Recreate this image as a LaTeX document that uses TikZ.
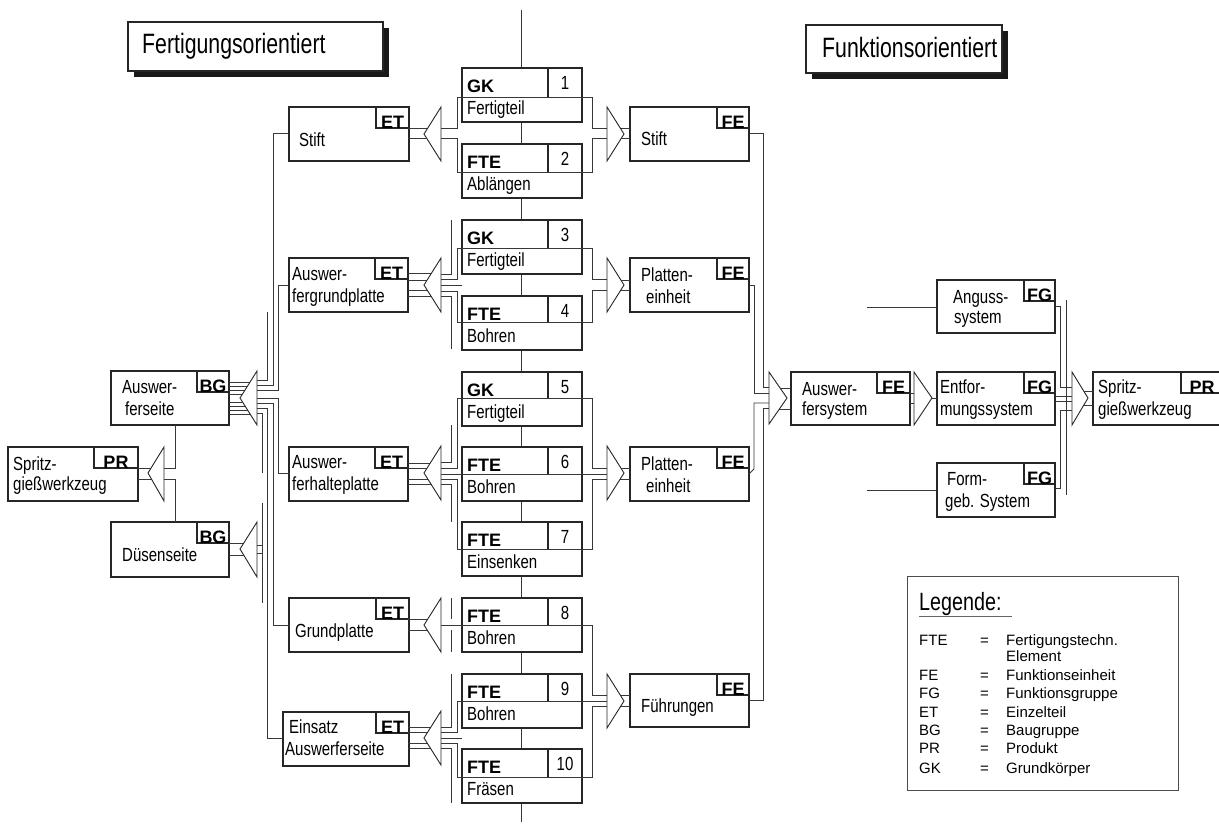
\documentclass[tikz,border=0pt]{standalone}
\usepackage{fontspec}
\setmainfont{Liberation Sans}
\newfontfamily\narrowfont{Liberation Sans}[FakeStretch=0.79]
\newfontfamily\titlefont{Liberation Sans}[FakeStretch=0.76]
\usetikzlibrary{calc}
\begin{document}
\begin{tikzpicture}[x=1pt,y=-1pt,
  wire/.style={draw=black!78, line width=0.9pt},
  box/.style={draw=black!85, line width=1.1pt, fill=white, anchor=north west, inner sep=0pt, outer sep=0pt},
  tagline/.style={draw=black!85, line width=1.1pt},
  tag/.style={anchor=base, inner sep=0pt, font=\bfseries\fontsize{18}{18}\selectfont},
  kind/.style={anchor=base west, inner sep=0pt, font=\bfseries\fontsize{18}{18}\selectfont},
  lbl/.style={anchor=base west, inner sep=0pt, font=\narrowfont\fontsize{19}{22}\selectfont},
  num/.style={anchor=base, inner sep=0pt, font=\narrowfont\fontsize{19}{19}\selectfont},
  merge/.style={draw=black!85, line width=0.9pt, fill=white, line join=miter},
  title/.style={anchor=base west, inner sep=0pt, font=\titlefont\fontsize{28}{28}\selectfont},
  legend/.style={anchor=base west, inner sep=0pt, font=\fontsize{15}{15}\selectfont},
]
\useasboundingbox (0,0) rectangle (1219,825);

% unit box with a type tag in the upper right corner
\newcommand\unitbox[7]{% name, x, y, width, height, tag width, tag
  \node[box,minimum width=#4pt,minimum height=#5pt] (#1) at (#2,#3) {};
  \draw[tagline] ($(#1.north east)+(-#6,0)$) |- ($(#1.north east)+(0,21)$);
  \node[tag] (#1-t) at ($(#1.north east)+(-#6/2,21)$) {#7};
}
% manufacturing element box of the middle column
\newcommand\ftebox[6]{% name, top, divider, kind, number, process
  \node[box,minimum width=120pt,minimum height=54pt] (#1) at (462,#2) {};
  \draw[tagline] (548,#2) -- (548,#3);
  \node[kind] (#1-k) at (467,#2+24) {#4};
  \node[num] (#1-n) at (565,#2+21) {#5};
  \node[lbl] (#1-p) at (467,#2+46) {#6};
}
\newcommand\mergeleft[2]{\draw[merge] (#1,#2-27) -- (#1-17,#2) -- (#1,#2+27) -- cycle;}
\newcommand\mergeright[2]{\draw[merge] (#1,#2-27) -- (#1+17,#2) -- (#1,#2+27) -- cycle;}

% ---------------- titles
\fill[black!90] (134,28) rectangle (389,77);
\node[box,minimum width=255pt,minimum height=49pt] (titleL) at (128,22) {};
\node[title] (titleLtext) at (142,53) {Fertigungsorientiert};
\fill[black!90] (812,31) rectangle (1008,79);
\node[box,minimum width=196pt,minimum height=48pt] (titleR) at (806,25) {};
\node[title] (titleRtext) at (822,57) {Funktionsorientiert};

% ---------------- spine of the manufacturing column
\coordinate (spineTop) at (521,10);
\coordinate (spineBot) at (521,822);
\draw[wire] (spineTop) -- (spineBot);

% ---------------- manufacturing elements
\ftebox{m1}{68}{97}{GK}{1}{Fertigteil}
\ftebox{m2}{144}{172}{FTE}{2}{Ablängen}
\ftebox{m3}{220}{248}{GK}{3}{Fertigteil}
\ftebox{m4}{296}{322}{FTE}{4}{Bohren}
\ftebox{m5}{372}{398}{GK}{5}{Fertigteil}
\ftebox{m6}{447}{474}{FTE}{6}{Bohren}
\ftebox{m7}{522}{549}{FTE}{7}{Einsenken}
\ftebox{m8}{598}{625}{FTE}{8}{Bohren}
\ftebox{m9}{674}{701}{FTE}{9}{Bohren}
\ftebox{m10}{749}{777}{FTE}{10}{Fräsen}

% ---------------- single parts (ET)
\unitbox{etS}{289}{107}{120}{54}{33}{ET}
\node[lbl] (etS-a) at (299,146) {Stift};
\unitbox{etG}{289}{258}{119}{54}{33}{ET}
\node[lbl] (etG-a) at (292,280) {Auswer-};
\node[lbl] (etG-b) at (292,302) {fergrundplatte};
\unitbox{etH}{289}{447}{119}{54}{33}{ET}
\node[lbl] (etH-a) at (292,468) {Auswer-};
\node[lbl] (etH-b) at (292,490) {ferhalteplatte};
\unitbox{etP}{289}{598}{120}{54}{33}{ET}
\node[lbl] (etP-a) at (295,637) {Grundplatte};
\unitbox{etE}{283}{712}{126}{54}{33}{ET}
\node[lbl] (etE-a) at (289,733) {Einsatz};
\node[lbl] (etE-b) at (285,755) {Auswerferseite};

% ---------------- assemblies and product (left)
\unitbox{prL}{8}{447}{130}{54}{44}{PR}
\node[lbl] (prL-a) at (13,470) {Spritz-};
\node[lbl] (prL-b) at (13,490) {gießwerkzeug};
\unitbox{bgA}{111}{371}{118}{54}{32}{BG}
\node[lbl] (bgA-a) at (122,393) {Auswer-};
\node[lbl] (bgA-b) at (125,415) {ferseite};
\unitbox{bgD}{111}{522}{118}{55}{32}{BG}
\node[lbl] (bgD-a) at (122,561) {Düsenseite};

% ---------------- function units (FE)
\unitbox{feS}{630}{107}{119}{54}{32}{FE}
\node[lbl] (feS-a) at (641,145) {Stift};
\unitbox{feP}{630}{258}{119}{54}{32}{FE}
\node[lbl] (feP-a) at (641,281) {Platten-};
\node[lbl] (feP-b) at (646,303) {einheit};
\unitbox{feQ}{630}{447}{119}{54}{32}{FE}
\node[lbl] (feQ-a) at (641,470) {Platten-};
\node[lbl] (feQ-b) at (646,492) {einheit};
\unitbox{feF}{630}{674}{119}{53}{32}{FE}
\node[lbl] (feF-a) at (641,712) {Führungen};
\unitbox{feA}{791}{372}{119}{53}{33}{FE}
\node[lbl] (feA-a) at (802,395) {Auswer-};
\node[lbl] (feA-b) at (802,415) {fersystem};

% ---------------- function groups (FG) and product (right)
\unitbox{fgA}{937}{280}{118}{53}{31}{FG}
\node[lbl] (fgA-a) at (953,303) {Anguss-};
\node[lbl] (fgA-b) at (954,323) {system};
\unitbox{fgE}{937}{372}{118}{53}{31}{FG}
\node[lbl] (fgE-a) at (940,393) {Entfor-};
\node[lbl] (fgE-b) at (940,415) {mungssystem};
\unitbox{fgF}{937}{463}{118}{54}{31}{FG}
\node[lbl] (fgF-a) at (947,485) {Form-};
\node[lbl] (fgF-b) at (945,507) {geb. System};
\unitbox{prR}{1093}{372}{130}{53}{42}{PR}
\node[lbl] (prR-a) at (1098,393) {Spritz-};
\node[lbl] (prR-b) at (1098,415) {gießwerkzeug};

% ---------------- element lines: left to the ET merges, right to the FE merges
\draw[wire] (441,128) -| (457,97) -- (592,97) |- (607,128);
\draw[wire] (441,138) -| (457,172) -- (592,172) |- (607,138);
\draw[wire] (441,279) -| (457,248) -- (592,248) |- (607,279);
\draw[wire] (441,291) -| (457,322) -- (592,322) |- (607,290);
\draw[wire] (441,468) -| (457,398) -- (592,398) |- (607,468);
\draw[wire] (441,474) -- (607,474);
\draw[wire] (441,479) -| (457,549) -- (592,549) |- (607,479);
\draw[wire] (441,625) -- (592,625) |- (607,695);
\draw[wire] (441,732) -| (457,701) -- (607,701);
\draw[wire] (441,743) -| (457,777) -- (592,777) |- (607,706);
% bracket stubs of the element groups
\draw[wire] (441,274) -| (451,220);
\draw[wire] (441,296) -| (451,349);
\draw[wire] (441,285) -- (462,285);
\draw[wire] (441,462) -| (451,425);
\draw[wire] (441,484) -| (451,522);
\draw[wire] (451,598) -- (451,619);
\draw[wire] (451,630) -- (451,652);
\draw[wire] (441,727) -| (451,674);
\draw[wire] (441,748) -| (451,803);
\draw[wire] (441,738) -- (462,738);

% ET boxes into their merges
\foreach \yy in {128,138,273,280,290,296,463,468,479,484,619,630,727,732,743,748}
  \draw[wire] (408,\yy) -- (441,\yy);
% merges into the FE boxes
\foreach \yy in {128,138,280,290,468,479,695,706}
  \draw[wire] (607,\yy) -- (630,\yy);

\mergeleft{441}{134}
\mergeleft{441}{285}
\mergeleft{441}{473}
\mergeleft{441}{625}
\mergeleft{441}{738}
\mergeright{607}{134}
\mergeright{607}{285}
\mergeright{607}{473}
\mergeright{607}{701}

% ---------------- FE units into the ejector system
\draw[wire] (749,133) -| (763,387) -- (769,387);
\draw[wire] (749,285) -| (754,393) -- (769,393);
\draw[wire] (749,474) -- (754,469) -- (754,403) -- (769,403);
\draw[wire] (749,700) -| (763,408) -- (769,408);
\draw[wire] (769,388) -- (791,388);
\draw[wire] (769,409) -- (791,409);
\draw[merge] (769,372) -- (787,398) -- (769,424) -- cycle;

% ejector system into the demoulding system
\draw[wire] (910,393) -- (914,393);
\draw[wire] (910,403) -- (914,403);
\draw[merge] (914,372) -- (932,398) -- (914,425) -- cycle;
\draw[wire] (932,398) -- (937,398);

% open inputs of the sprue and forming groups
\coordinate (angIn) at (867,307);
\coordinate (formIn) at (867,490);
\draw[wire] (angIn) -- (fgA.west |- angIn);
\draw[wire] (formIn) -- (fgF.west |- formIn);

% function groups into the injection mould
\draw[wire] (1055,306) -| (1060,387) -- (1072,387);
\draw[wire] (1055,488) -| (1060,410) -- (1072,410);
\draw[wire] (1055,396) -- (1072,396);
\draw[wire] (1055,401) -- (1072,401);
\draw[wire] (1066,300) -- (1066,495);
\draw[wire] (1072,391) -- (1093,391);
\draw[wire] (1072,405) -- (1093,405);
\draw[merge] (1072,372) -- (1088,398) -- (1072,425) -- cycle;

% ---------------- assembly ejector side to its single parts
\foreach \yy in {382,386,390,394,402,406,410,414}
  \draw[wire] (229,\yy) -- (257,\yy);
\draw[merge] (257,371) -- (240,398) -- (257,425) -- cycle;
\draw[wire] (257,380) -| (267,312);
\draw[wire] (257,385) -| (273,133) -- (etS.west |- 0,133);
\draw[wire] (257,390) -| (278,285) -- (etG.west |- 0,285);
\draw[wire] (257,398) -| (278,473) -- (etH.west |- 0,473);
\draw[wire] (257,403) -| (273,625) -- (etP.west |- 0,625);
\draw[wire] (257,408) -| (267,738) -- (etE.west |- 0,738);
\draw[wire] (257,413) -| (262,473);

% assembly nozzle side
\draw[wire] (229,543) -- (257,543);
\draw[wire] (229,555) -- (257,555);
\draw[merge] (257,522) -- (240,549) -- (257,577) -- cycle;
\draw[wire] (262,503) -- (262,603);
\draw[wire] (257,545) -- (262,545);
\draw[wire] (257,553) -- (262,553);

% product to its assemblies
\draw[wire] (138,468) -- (164,468);
\draw[wire] (138,479) -- (164,479);
\draw[merge] (164,447) -- (148,473) -- (164,501) -- cycle;
\draw[wire] (164,468) -| (bgA.south -| 175,0);
\draw[wire] (164,479) -| (bgD.north -| 175,0);

% ---------------- legend
\node[box,minimum width=271pt,minimum height=214pt,draw=black!70,line width=0.9pt] (legend) at (907,576) {};
\node[anchor=base west,inner sep=0pt,font=\narrowfont\fontsize{25}{25}\selectfont] (legT) at (919,610) {Legende:};
\draw[black!60,line width=1pt] (919,616) -- (1012,616);
\node[legend] (l1a) at (919,645) {FTE};
\node[legend] (l1b) at (980,645) {=};
\node[legend] (l1c) at (1006,645) {Fertigungstechn.};
\node[legend] (l1d) at (1006,661) {Element};
\node[legend] (l2a) at (919,680) {FE};
\node[legend] (l2b) at (980,680) {=};
\node[legend] (l2c) at (1006,680) {Funktionseinheit};
\node[legend] (l3a) at (919,698) {FG};
\node[legend] (l3b) at (980,698) {=};
\node[legend] (l3c) at (1006,698) {Funktionsgruppe};
\node[legend] (l4a) at (919,717) {ET};
\node[legend] (l4b) at (980,717) {=};
\node[legend] (l4c) at (1006,717) {Einzelteil};
\node[legend] (l5a) at (919,735) {BG};
\node[legend] (l5b) at (980,735) {=};
\node[legend] (l5c) at (1006,735) {Baugruppe};
\node[legend] (l6a) at (919,753) {PR};
\node[legend] (l6b) at (980,753) {=};
\node[legend] (l6c) at (1006,753) {Produkt};
\node[legend] (l7a) at (919,773) {GK};
\node[legend] (l7b) at (980,773) {=};
\node[legend] (l7c) at (1006,773) {Grundkörper};
\end{tikzpicture}
\end{document}
